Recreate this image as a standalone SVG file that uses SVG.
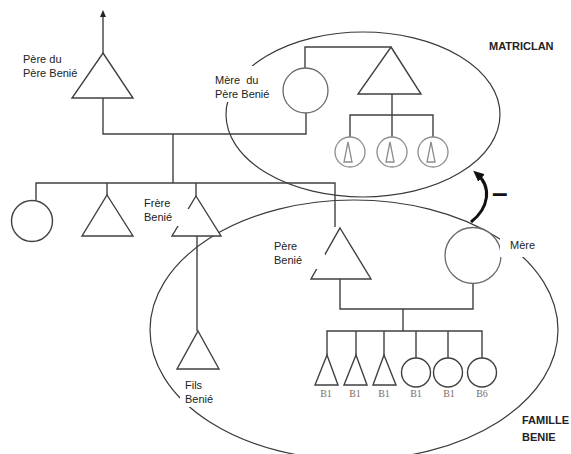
<svg xmlns="http://www.w3.org/2000/svg" width="571" height="454" viewBox="0 0 571 454">
<defs>
<marker id="ah" markerWidth="8" markerHeight="8" refX="4" refY="4" orient="auto" markerUnits="userSpaceOnUse">
<path d="M0,1 L7,4 L0,7 Z" fill="#222"/>
</marker>
<marker id="ahb" markerWidth="12" markerHeight="12" refX="6" refY="6" orient="auto" markerUnits="userSpaceOnUse">
<path d="M0,1 L11,6 L0,11 Z" fill="#111"/>
</marker>
<style>
.ln{fill:none;stroke:#404040;stroke-width:1.4}
.sh{fill:#fff;stroke:#404040;stroke-width:1.4}
.shg{fill:#fff;stroke:#6a6a6a;stroke-width:1.3}
.shl{fill:#fff;stroke:#8c8c8c;stroke-width:1.3}
.ell{fill:none;stroke:#3a3a3a;stroke-width:1.2}
.lb{font-family:"Liberation Sans",Arial,sans-serif;font-size:11px;fill:#222}
.bd{font-family:"Liberation Sans",Arial,sans-serif;font-size:11px;font-weight:bold;fill:#222}
.b{font-family:"Liberation Serif","Times New Roman",serif;font-size:10px;fill:#7d6e68;text-anchor:middle}
.bg{fill:#fff;stroke:none}
</style>
</defs>
<rect width="571" height="454" fill="#fff"/>

<g id="clans">
<ellipse id="matriclan" class="ell" cx="363" cy="114.5" rx="137" ry="82.5"/>
<ellipse id="famille-benie" class="ell" cx="354" cy="330" rx="204" ry="130"/>
</g>

<g id="connectors">
<line class="ln" x1="103" y1="53" x2="103" y2="13" marker-end="url(#ah)"/>
<polyline class="ln" points="103,98 103,134 306,134 306,113"/>
<line class="ln" x1="173" y1="134" x2="173" y2="183"/>
<polyline class="ln" points="36,201 36,183 335,183 335,227"/>
<line class="ln" x1="107" y1="183" x2="107" y2="195"/>
<line class="ln" x1="196" y1="183" x2="196" y2="196"/>
<line class="ln" x1="197" y1="236" x2="197" y2="331"/>
<polyline class="ln" points="305,68 305,47 391,47"/>
<polyline class="ln" points="392,94 392,115"/>
<polyline class="ln" points="350,137 350,115 433,115 433,137"/>
<line class="ln" x1="392" y1="115" x2="392" y2="137"/>
<polyline class="ln" points="340,279 340,309 473,309 473,283"/>
<line class="ln" x1="403" y1="309" x2="403" y2="331"/>
<polyline class="ln" points="327,355 327,331 482,331 482,358"/>
<line class="ln" x1="356" y1="331" x2="356" y2="355"/>
<line class="ln" x1="384" y1="331" x2="384" y2="355"/>
<line class="ln" x1="416" y1="331" x2="416" y2="358"/>
<line class="ln" x1="448" y1="331" x2="448" y2="358"/>
<path d="M471,222 C489,208 492,187 477,174" fill="none" stroke="#111" stroke-width="3" marker-end="url(#ahb)"/>
</g>

<g id="pere-du-pere"><polygon class="sh" points="103,53 133,98 72,98"/></g>
<g id="mere-du-pere"><circle class="shg" cx="305.5" cy="90.5" r="22.5"/></g>
<g id="oncle-maternel"><polygon class="sh" points="391,47 421,94 358,94"/></g>
<g id="matri-enfant-1"><circle class="shl" cx="350" cy="152" r="15"/><polygon class="shl" points="348,142 352,162 344,162"/></g>
<g id="matri-enfant-2"><circle class="shl" cx="392" cy="152" r="15"/><polygon class="shl" points="390,142 394,162 386,162"/></g>
<g id="matri-enfant-3"><circle class="shl" cx="433" cy="152" r="15"/><polygon class="shl" points="431,142 435,162 427,162"/></g>
<g id="soeur"><circle class="sh" cx="32" cy="221" r="20.5"/></g>
<g id="frere"><polygon class="sh" points="107,195 133,236 82,236"/></g>
<g id="frere-benie"><polygon class="sh" points="196,196 221,236 172,236"/></g>
<g id="fils-benie"><polygon class="sh" points="198,331 219,369 177,369"/></g>
<g id="pere-benie"><polygon class="sh" points="340,228 371,279 311,279"/></g>
<g id="mere"><circle class="shg" cx="473" cy="255.5" r="28"/></g>
<g id="enfant-1"><polygon class="sh" points="327,355 338,385 315,385"/><text class="b" x="326" y="397">B1</text></g>
<g id="enfant-2"><polygon class="sh" points="356,355 367,385 344,385"/><text class="b" x="355" y="397">B1</text></g>
<g id="enfant-3"><polygon class="sh" points="384,355 396,385 373,385"/><text class="b" x="384" y="397">B1</text></g>
<g id="enfant-4"><circle class="sh" cx="416" cy="372.5" r="14.5"/><text class="b" x="416" y="397">B1</text></g>
<g id="enfant-5"><circle class="sh" cx="448" cy="372.5" r="14.5"/><text class="b" x="449" y="397">B1</text></g>
<g id="enfant-6"><circle class="sh" cx="482" cy="372.5" r="14.5"/><text class="b" x="482" y="397">B6</text></g>

<g id="labels">
<text class="lb" x="23" y="63">Père du</text>
<text class="lb" x="23" y="77">Père Benié</text>
<rect class="bg" x="212" y="66" width="60" height="36"/>
<text class="lb" x="215" y="84" xml:space="preserve">Mère  du</text>
<text class="lb" x="215" y="98">Père Benié</text>
<rect class="bg" x="140" y="209" width="49" height="17"/>
<text class="lb" x="144" y="207">Frère</text>
<text class="lb" x="144" y="221">Benié</text>
<rect class="bg" x="270" y="254" width="55" height="15"/>
<text class="lb" x="274" y="250">Père</text>
<text class="lb" x="274" y="264">Benié</text>
<rect class="bg" x="180" y="378" width="36" height="29"/>
<text class="lb" x="185" y="389">Fils</text>
<text class="lb" x="185" y="403">Benié</text>
<rect class="bg" x="500" y="237" width="40" height="20"/>
<text class="lb" x="510" y="249">Mère</text>
<text class="bd" x="489" y="50">MATRICLAN</text>
<text class="bd" x="522" y="424">FAMILLE</text>
<text class="bd" x="522" y="441">BENIE</text>
<text class="bd" x="492" y="202" style="font-size:28px;fill:#111">–</text>
</g>
</svg>
